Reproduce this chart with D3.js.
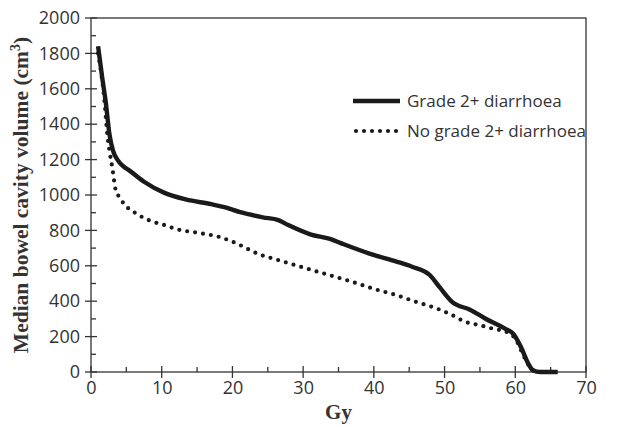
<!DOCTYPE html>
<html>
<head>
<meta charset="utf-8">
<script src="https://cdn.jsdelivr.net/npm/d3@7"></script>
<style>
  html, body { margin: 0; padding: 0; background: #fff; }
  svg { display: block; }
</style>
</head>
<body>
<div id="chart"></div>
<script>
(function () {
    // dose (Gy) vs median bowel cavity volume (cm3)
    const gradeDose = [1, 1.6, 2.1, 2.6, 3.1, 3.8, 4.7, 5.4, 7.5, 10.4, 13.4, 17.0, 19.0, 21.1, 24.3, 26.5, 27.9, 31.0, 33.8, 35.6, 39.6, 43.2, 45.4, 47.9, 49.3, 51.1, 53.6, 55.8, 58.6, 59.7, 60.8, 61.8, 62.5, 63.5, 66];
    const gradeVol = [1840, 1660, 1520, 1346, 1252, 1196, 1158, 1139, 1075, 1012, 975, 948, 930, 903, 874, 858, 830, 778, 752, 724, 666, 624, 595, 548, 479, 395, 352, 301, 244, 216, 141, 50, 10, 0, 0];

    const noGradeDose = [1, 1.9, 2.3, 2.6, 3.0, 3.5, 4.0, 4.7, 6.4, 8.2, 10.5, 12.0, 15.2, 18.4, 20.6, 23.6, 26.5, 29.7, 33.3, 36.9, 39.8, 43.2, 45.9, 48.8, 50.9, 52.9, 55.0, 56.8, 58.8, 60, 61.2, 62.2, 63];
    const noGradeVol = [1800, 1534, 1346, 1252, 1158, 1027, 989, 948, 895, 857, 829, 808, 786, 760, 726, 668, 632, 594, 552, 510, 472, 434, 397, 360, 325, 284, 264, 245, 226, 188, 90, 20, 0];

    const xTicks = [0, 10, 20, 30, 40, 50, 60, 70];
    const yTicks = [0, 200, 400, 600, 800, 1000, 1200, 1400, 1600, 1800, 2000];

    const seriesNames = ["Grade 2+ diarrhoea", "No grade 2+ diarrhoea"];

    const width = 626, height = 427;
    const margin = { top: 18, right: 40, bottom: 55, left: 91 };
    const innerW = width - margin.left - margin.right;
    const innerH = height - margin.top - margin.bottom;

    const svg = d3.select("#chart").append("svg")
        .attr("width", width)
        .attr("height", height);

    const x = d3.scaleLinear().domain([0, 70]).range([margin.left, margin.left + innerW]);
    const y = d3.scaleLinear().domain([0, 2000]).range([margin.top + innerH, margin.top]);

    const axisColor = "#333";
    const tickFont = "'Open Sans', sans-serif";
    const serifFont = "'Liberation Serif', 'Times New Roman', serif";

    // frame
    svg.append("rect")
        .attr("x", x(0)).attr("y", y(2000))
        .attr("width", x(70) - x(0)).attr("height", y(0) - y(2000))
        .attr("fill", "none").attr("stroke", axisColor).attr("stroke-width", 1.3);

    // x axis
    const xAxis = svg.append("g")
        .attr("transform", `translate(0,${y(0)})`)
        .call(d3.axisBottom(x).tickValues(xTicks).tickFormat(d3.format("d")).tickSize(0).tickPadding(9));
    xAxis.select(".domain").remove();
    xAxis.selectAll("text")
        .attr("font-family", tickFont).attr("font-size", 18).attr("fill", "#333");

    const xMinor = d3.range(5, 70, 10);
    svg.append("g").selectAll("line")
        .data(xTicks)
        .join("line")
        .attr("x1", d => x(d)).attr("x2", d => x(d))
        .attr("y1", y(0) - 6).attr("y2", y(0) + 6)
        .attr("stroke", axisColor).attr("stroke-width", 1.3);
    svg.append("g").selectAll("line")
        .data(xMinor)
        .join("line")
        .attr("x1", d => x(d)).attr("x2", d => x(d))
        .attr("y1", y(0) - 5).attr("y2", y(0))
        .attr("stroke", axisColor).attr("stroke-width", 1.3);

    // y axis
    const yAxis = svg.append("g")
        .attr("transform", `translate(${x(0)},0)`)
        .call(d3.axisLeft(y).tickValues(yTicks).tickFormat(d3.format("d")).tickSize(0).tickPadding(11));
    yAxis.select(".domain").remove();
    yAxis.selectAll("text")
        .attr("font-family", tickFont).attr("font-size", 18).attr("fill", "#333");

    const yMinor = d3.range(100, 2000, 200);
    svg.append("g").selectAll("line")
        .data(yTicks)
        .join("line")
        .attr("x1", x(0) - 6).attr("x2", x(0) + 6)
        .attr("y1", d => y(d)).attr("y2", d => y(d))
        .attr("stroke", axisColor).attr("stroke-width", 1.3);
    svg.append("g").selectAll("line")
        .data(yMinor)
        .join("line")
        .attr("x1", x(0)).attr("x2", x(0) + 5)
        .attr("y1", d => y(d)).attr("y2", d => y(d))
        .attr("stroke", axisColor).attr("stroke-width", 1.3);

    // axis titles
    svg.append("text")
        .attr("x", (x(0) + x(70)) / 2).attr("y", 419)
        .attr("text-anchor", "middle")
        .attr("font-family", serifFont)
        .attr("font-weight", "bold").attr("font-size", 21).attr("fill", "#333")
        .text("Gy");

    const yTitle = svg.append("text")
        .attr("transform", `translate(28,${(y(0) + y(2000)) / 2}) rotate(-90)`)
        .attr("text-anchor", "middle")
        .attr("font-family", serifFont)
        .attr("font-weight", "bold").attr("font-size", 21.5).attr("fill", "#333");
    yTitle.append("tspan").text("Median bowel cavity volume (cm");
    yTitle.append("tspan").attr("dy", -8).attr("font-size", 14).text("3");
    yTitle.append("tspan").attr("dy", 8).text(")");

    // curves
    const line = d3.line()
        .x(d => x(d[0]))
        .y(d => y(d[1]))
        .curve(d3.curveMonotoneX);

    const gradeData = d3.zip(gradeDose, gradeVol);
    const noGradeData = d3.zip(noGradeDose, noGradeVol);

    svg.append("path")
        .datum(noGradeData)
        .attr("d", line)
        .attr("fill", "none")
        .attr("stroke", "#1a1a1a")
        .attr("stroke-width", 4.2)
        .attr("stroke-linecap", "round")
        .attr("stroke-dasharray", "0,8");

    svg.append("path")
        .datum(gradeData)
        .attr("d", line)
        .attr("fill", "none")
        .attr("stroke", "#1a1a1a")
        .attr("stroke-width", 4.4)
        .attr("stroke-linejoin", "round");

    // legend
    const legend = svg.append("g");
    const legendRows = [
        { name: seriesNames[0], y: 101, dash: null, w: 4.4 },
        { name: seriesNames[1], y: 131, dash: "0,8", w: 4.2 }
    ];
    legendRows.forEach(r => {
        legend.append("line")
            .attr("x1", r.dash ? 356 : 353).attr("x2", 400)
            .attr("y1", r.y).attr("y2", r.y)
            .attr("stroke", "#1a1a1a")
            .attr("stroke-width", r.w)
            .attr("stroke-linecap", r.dash ? "round" : "butt")
            .attr("stroke-dasharray", r.dash);
        legend.append("text")
            .attr("x", 407).attr("y", r.y + 6)
            .attr("font-family", tickFont).attr("font-size", 17).attr("fill", "#333")
            .text(r.name);
    });
})();
</script>
</body>
</html>
